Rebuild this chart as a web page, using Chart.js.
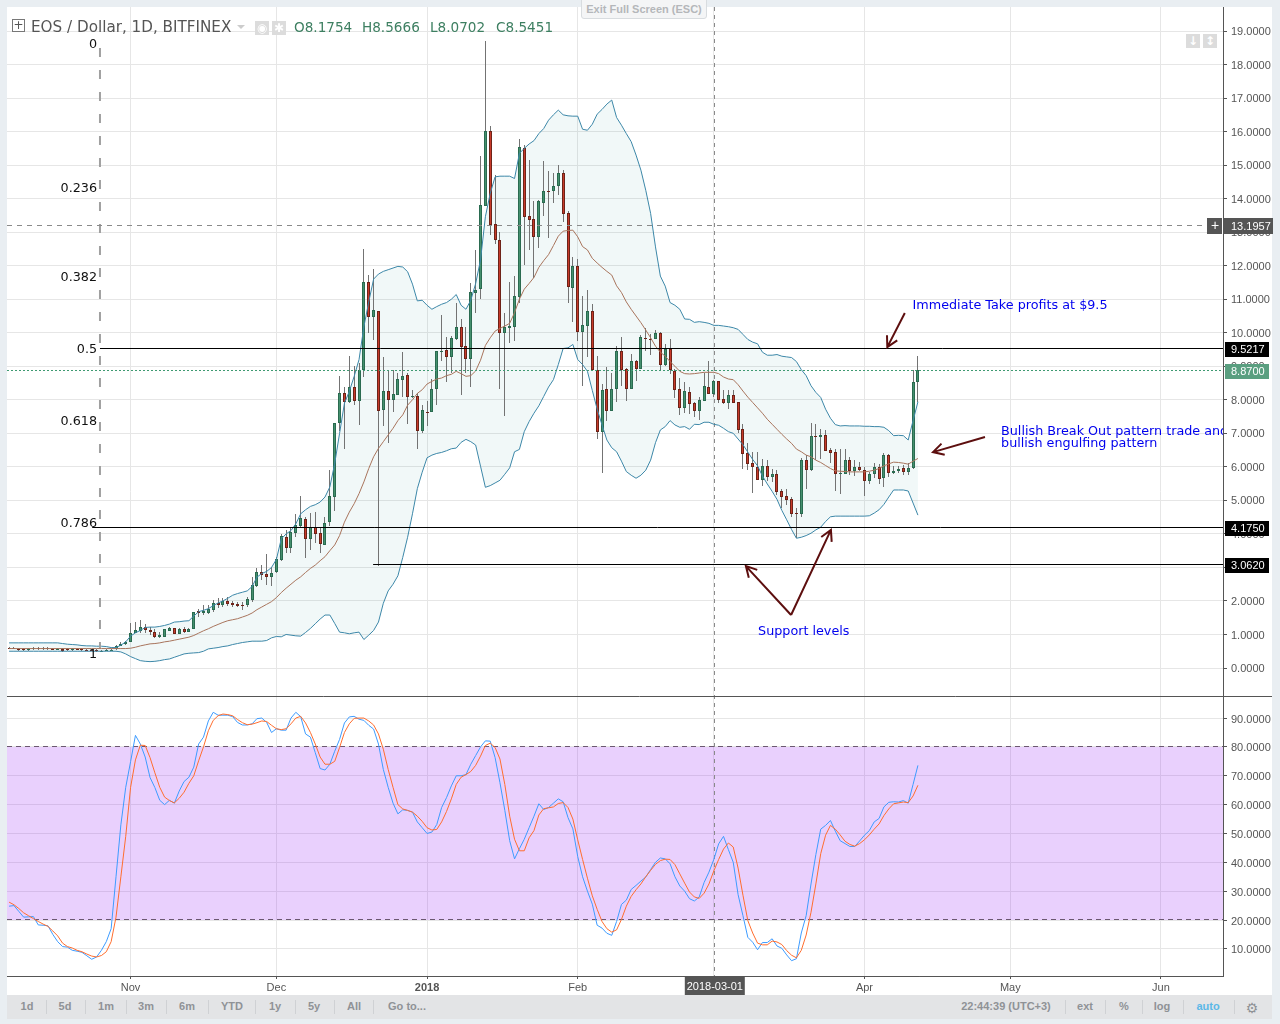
<!DOCTYPE html>
<html><head><meta charset="utf-8">
<script src="https://cdn.jsdelivr.net/npm/chart.js@4"></script>
<style>
html,body{margin:0;padding:0;background:#e9eef2;width:1280px;height:1024px;overflow:hidden;font-family:"Liberation Sans",Arial,sans-serif}
#frame{position:absolute;left:7px;top:7px;width:1265px;height:1012px;background:#fff}
canvas{position:absolute;left:0;top:0}
.t{position:absolute;white-space:nowrap}
#bar{position:absolute;left:7px;top:995px;width:1265px;height:24px;background:#e3e4e6}
.b{position:absolute;top:1000px;font:bold 11px "Liberation Sans";color:#8f9296;transform:translateX(-50%);white-space:nowrap}
.s{position:absolute;top:1000px;width:1px;height:14px;background:#cfd1d4}
.ic{position:absolute;width:14px;height:14px;background:#dcdcdc;color:#fff;font:bold 12px/14px "DejaVu Sans";text-align:center}
.q{position:absolute;top:18px;font:13.6px/18px 'DejaVu Sans';color:#3d7f61;white-space:nowrap}
</style></head><body>
<div id="frame"></div>
<canvas id="c" width="1280" height="1024"></canvas>
<div class="t" style="left:581px;top:-1px;width:124px;height:18px;border:1px solid #d8dcdf;background:#f4f5f6;border-radius:0 0 3px 3px;font:bold 11px/19px 'Liberation Sans';color:#b4b7ba;text-align:center">Exit Full Screen (ESC)</div>
<div class="t" style="left:12px;top:19px;width:11px;height:11px;border:1px solid #777;font:12px/10px 'DejaVu Sans';color:#555;text-align:center">+</div>
<div class="t" style="left:31px;top:18px;font:15.2px/18px 'DejaVu Sans';color:#555">EOS / Dollar, 1D, BITFINEX</div>
<div class="t" style="left:237px;top:25px;width:0;height:0;border:4px solid transparent;border-top-color:#ccc"></div>
<div class="ic" style="left:255px;top:21px">◉</div><div class="ic" style="left:272px;top:21px">✱</div>
<div class="q" style="left:294px">O8.1754</div><div class="q" style="left:362px">H8.5666</div><div class="q" style="left:430px">L8.0702</div><div class="q" style="left:496px">C8.5451</div>
<div class="ic" style="left:1186px;top:34px">↓</div><div class="ic" style="left:1203px;top:34px">↕</div>
<div id="bar"></div>
<script>
const firstDay = -25;
const opens = [.60,.59,.58,.57,.54,.58,.59,.58,.59,.58,.57,.58,.56,.53,.58,.56,.55,.54,.53,.52,.52,.53,
.56,.67,.71,.79,1.04,1.11,1.21,1.12,1.08,.91,.93,1.11,1.18,1.02,1.15,1.08,1.17,1.69,1.64,1.64,1.74,1.93,1.89,2.0,1.93,1.91,1.87,1.88,2.03,2.45,2.85,2.79,2.72,2.85,3.22,3.92,3.59,4.04,4.24,4.43,3.86,4.22,4.02,3.68,4.36,5.11,7.30,8.19,7.92,8.37,7.97,8.89,11.5,10.46,10.65,
7.69,8.25,7.99,8.14,8.59,8.74,8.09,8.11,7.08,7.64,7.64,8.33,9.44,9.48,9.28,9.81,10.16,9.6,9.22,11.19,11.29,13.79,16.01,13.23,12.78,10.0,10.15,10.18,11.07,15.5,13.47,13.38,12.86,13.88,14.24,14.23,14.39,14.75,13.56,11.34,11.99,10.03,10.21,10.64,8.88,7.05,8.31,7.67,8.31,9.47,8.93,8.33,9.15,8.93,9.84,9.82,9.81,10.0,9.04,9.51,8.86,8.31,7.76,8.22,7.9,7.67,7.97,8.37,8.18,8.55,
8.01,7.9,8.13,7.92,7.12,6.4,6.1,6.01,5.61,6.04,5.71,5.78,5.27,5.13,5.03,4.61,4.59,6.19,5.92,6.92,6.9,6.94,6.49,6.43,5.8,5.8,6.19,5.88,6.01,5.92,5.59,5.8,6.01,5.66,6.34,5.82,5.88,5.98,5.85,5.98,8.52];
const closes = [.59,.58,.53,.54,.58,.59,.58,.59,.58,.57,.58,.52,.53,.58,.56,.55,.54,.53,.52,.52,.53,.54,
.67,.72,.79,1.03,1.12,1.21,1.12,1.08,.91,.98,1.15,1.19,1.02,1.15,1.08,1.17,1.66,1.64,1.69,1.76,1.93,1.89,2.0,1.92,1.88,1.86,1.85,2.05,2.47,2.85,2.77,2.72,2.82,3.25,3.94,3.59,4.05,4.26,4.47,3.86,4.22,4.0,3.71,4.34,5.13,7.30,8.19,7.94,8.37,7.97,8.89,11.5,10.46,10.68,7.67,
8.25,7.99,8.16,8.61,8.70,8.09,8.12,7.08,7.69,7.61,8.32,9.45,9.47,9.28,9.83,10.16,9.58,9.22,11.21,11.27,13.81,16.01,13.21,12.77,10.0,10.16,10.2,11.09,15.53,13.46,13.37,12.86,13.92,14.24,14.22,14.39,14.75,13.53,11.37,11.99,10.03,10.22,10.64,8.89,7.05,8.28,7.67,8.31,9.47,8.9,8.33,9.15,8.93,9.86,9.82,9.81,10.0,9.05,9.51,8.89,8.3,7.76,8.25,7.88,7.67,7.98,8.4,8.18,8.55,8.0,
7.9,8.13,7.91,7.1,6.39,6.08,6.0,5.62,6.04,5.71,5.78,5.26,5.11,5.02,4.59,4.6,6.19,5.92,6.91,6.9,6.95,6.48,6.4,5.78,5.82,6.19,5.87,6.01,5.92,5.59,5.8,6.01,5.65,6.34,5.83,5.89,5.95,5.85,5.98,8.52,8.88];
const highs = [.63,.62,.61,.60,.60,.62,.62,.62,.62,.61,.61,.61,.59,.60,.61,.59,.58,.57,.56,.55,.56,.57,
.69,.77,.81,1.33,1.38,1.43,1.30,1.23,1.15,1.08,1.17,1.22,1.20,1.18,1.21,1.19,1.68,1.75,1.87,1.88,2.03,2.08,2.08,2.13,2.0,1.98,1.98,2.13,2.72,2.97,3.07,3.4,3.02,3.32,4.01,4.13,4.21,4.59,5.13,4.51,4.61,4.65,4.22,4.49,5.92,7.32,8.7,8.39,9.3,9.0,9.1,12.51,11.72,11.9,10.66,
9.28,8.9,8.89,8.79,9.42,8.79,8.3,8.2,7.84,7.96,8.61,9.45,10.53,9.88,9.9,10.9,10.4,10.18,11.47,12.47,15.27,18.7,16.16,14.7,13.0,10.58,11.51,11.69,15.78,15.6,15.15,13.93,13.95,15.12,14.82,14.77,15.0,14.85,13.63,12.25,12.2,11.09,11.27,10.85,9.3,8.47,8.97,8.79,9.6,9.88,8.95,9.36,9.2,9.93,10.15,9.96,10.08,10.02,9.65,9.8,8.91,8.64,8.53,8.39,7.94,8.09,8.81,9.15,8.59,8.57,
8.29,8.29,8.29,7.94,7.27,6.7,6.43,6.43,6.22,6.2,5.95,5.92,5.34,5.34,5.09,4.78,6.25,6.35,7.3,7.28,7.12,7.1,6.55,6.53,6.53,6.52,6.3,6.2,6.15,6.0,5.85,6.12,6.08,6.42,6.38,6.02,6.02,6.05,6.1,8.9,9.3];
const lows = [.57,.56,.50,.51,.52,.55,.55,.55,.55,.54,.54,.49,.50,.51,.53,.52,.51,.50,.49,.49,.50,.51,
.55,.66,.70,.78,1.03,1.03,1.05,.98,.90,.90,.92,1.09,1.0,1.0,1.05,1.06,1.17,1.53,1.58,1.62,1.68,1.78,1.83,1.86,1.81,1.83,1.73,1.83,1.98,2.42,2.63,2.48,2.45,2.82,3.19,3.42,3.44,3.92,4.21,3.29,3.52,3.72,3.42,3.67,4.23,4.69,7.08,6.54,7.89,7.84,7.25,8.69,9.98,9.78,3.05,
7.22,6.7,7.64,8.14,8.07,7.28,8.05,6.52,7.02,7.22,7.64,7.84,9.16,8.54,8.79,9.78,8.14,8.79,8.39,10.6,11.0,13.79,12.91,12.66,8.32,7.51,9.68,9.76,10.9,12.02,12.47,11.62,12.53,13.48,12.83,13.88,14.1,13.31,10.89,10.33,9.75,8.41,9.28,8.89,6.83,5.83,7.38,7.67,7.94,8.41,7.96,8.33,8.57,8.93,9.45,9.33,9.8,8.89,9.0,8.77,8.04,7.54,7.61,7.59,7.5,7.4,7.97,8.18,8.09,7.89,
7.88,7.74,7.9,7.0,5.94,5.9,5.21,5.62,5.43,5.59,5.56,5.16,4.76,4.86,4.51,3.89,4.51,5.35,5.88,6.2,6.24,6.48,6.1,5.29,5.19,5.78,5.76,5.73,5.88,5.13,5.5,5.66,5.49,5.41,5.7,5.78,5.82,5.76,5.76,5.95,7.94];
const bbUpper = [.75,.75,.75,.75,.75,.75,.75,.75,.75,.75,.75,.73,.71,.70,.69,.67,.66,.66,.65,.65,.64,.61,.61,.68,.78,
.95,1.05,1.12,1.21,1.22,1.22,1.24,1.27,1.31,1.37,1.38,1.40,1.41,1.55,1.68,1.72,1.77,1.86,1.94,2.0,2.08,2.17,2.22,2.26,2.30,2.43,2.71,2.82,2.88,3.0,3.24,3.85,4.0,4.1,4.3,4.6,4.72,4.82,4.87,4.95,5.1,5.4,6.1,7.0,7.9,8.25,8.7,9.2,10.18,10.92,11.6,11.75,11.83,11.88,11.93,11.98,11.96,11.82,11.45,10.95,
10.97,10.82,10.7,10.78,10.85,10.9,11.0,11.14,10.82,10.7,10.97,11.47,12.17,13.46,14.16,14.65,14.67,14.67,14.67,14.6,15.35,15.5,15.63,15.73,15.94,16.09,16.34,16.5,16.64,16.5,16.47,16.46,16.46,16.07,16.04,16.22,16.52,16.66,16.82,16.94,16.42,16.19,15.94,15.7,15.3,14.85,14.25,13.56,12.56,11.69,11.39,10.9,10.82,10.7,10.41,10.4,10.31,10.33,10.31,10.28,10.22,10.22,
10.2,10.18,10.15,10.1,9.95,9.8,9.72,9.67,9.42,9.33,9.33,9.35,9.3,9.28,9.26,9.14,8.9,8.72,8.42,8.22,8.07,7.72,7.45,7.26,7.22,7.23,7.22,7.22,7.22,7.21,7.21,7.2,7.2,7.18,7.08,6.93,6.94,6.93,6.8,7.38,7.94];
const bbLower = [.5,.5,.5,.5,.5,.5,.5,.5,.5,.5,.5,.5,.5,.5,.5,.5,.5,.5,.5,.5,.5,.5,.5,.48,.42,
.34,.28,.22,.2,.19,.2,.22,.25,.27,.32,.37,.42,.44,.45,.46,.5,.57,.59,.61,.64,.66,.7,.73,.76,.78,.8,.8,.8,.82,.9,.94,.93,1.0,.98,.96,.95,1.06,1.18,1.32,1.46,1.58,1.58,1.33,1.07,1.05,1.02,1.05,1.07,.85,.98,1.12,1.37,1.93,2.3,2.5,2.75,3.3,3.9,4.6,5.35,
5.84,6.27,6.35,6.4,6.43,6.48,6.54,6.56,6.73,6.82,6.75,6.65,6.02,5.39,5.44,5.52,5.6,5.78,5.97,6.45,6.52,7.05,7.35,7.6,7.82,8.1,8.38,8.6,9.05,9.53,9.55,9.65,9.2,9.05,8.85,8.28,7.72,7.25,6.8,6.57,6.45,6.17,5.86,5.75,5.66,5.75,5.9,6.2,6.72,7.1,7.2,7.38,7.25,7.18,7.2,7.12,7.27,7.26,7.33,7.33,7.27,7.24,
7.15,7.05,7.0,6.83,6.66,6.44,6.22,6.03,5.73,5.49,5.27,5.03,4.7,4.42,4.13,3.87,3.9,3.95,4.02,4.12,4.2,4.37,4.51,4.53,4.53,4.53,4.53,4.53,4.53,4.53,4.54,4.62,4.72,4.88,5.1,5.31,5.31,5.31,5.28,4.92,4.56];
const bbBasis = [.58,.58,.58,.58,.58,.58,.58,.58,.58,.58,.58,.58,.58,.58,.58,.58,.58,.58,.58,.58,.58,.58,.58,.58,.58,
.59,.62,.66,.69,.72,.73,.75,.78,.8,.83,.86,.89,.92,.97,1.04,1.11,1.17,1.24,1.3,1.36,1.41,1.44,1.47,1.52,1.57,1.64,1.74,1.82,1.9,1.98,2.1,2.25,2.38,2.5,2.62,2.72,2.85,2.97,3.07,3.2,3.32,3.5,3.67,3.95,4.35,4.65,4.9,5.2,5.55,5.95,6.3,6.55,6.75,6.95,7.15,7.38,7.55,7.84,8.0,8.19,
8.3,8.47,8.55,8.62,8.65,8.72,8.76,8.85,8.78,8.7,8.72,8.86,9.18,9.62,9.85,10.05,10.13,10.2,10.28,10.6,11.0,11.3,11.47,11.65,11.95,12.15,12.33,12.6,12.88,13.03,13.05,13.06,12.86,12.57,12.47,12.22,12.08,11.95,11.83,11.72,11.4,11.2,10.92,10.7,10.5,10.3,10.08,9.85,9.6,9.42,9.3,9.14,9.0,8.85,8.78,8.77,8.78,8.8,8.82,8.82,8.82,8.78,
8.68,8.62,8.6,8.45,8.26,8.08,7.92,7.76,7.6,7.42,7.27,7.12,6.97,6.83,6.7,6.53,6.45,6.35,6.3,6.2,6.13,6.04,5.95,5.88,5.87,5.86,5.85,5.85,5.85,5.85,5.87,5.9,5.95,6.03,6.09,6.14,6.13,6.11,6.08,6.17,6.25];
const stochK = [24.8,25,23,21,21.1,21.2,18.3,18.2,18,15,12.5,10.8,10.6,9.5,9.2,8.8,7.6,6.4,7.2,9.5,12.5,17,35,53,66,
74.9,84,81,76.5,69.4,65.9,61.5,60,61.5,60.5,64.7,68,69.5,73,81,83.4,89,92,91,91,91,90.5,88.5,87.6,87.6,88,89.8,90,88.5,85,86.3,85.8,85.8,90,92,90.5,84.5,83.4,78,72.5,72,74,78.5,82.6,88.3,90.4,90.6,89.6,89.2,87.5,86.2,81,72.2,66,60.5,56.8,58.2,58,57.4,54,52,50,50.5,53.1,59,62.4,66.5,70,70,70.4,74,77,
80,82.1,82,76.3,67.6,58,47.5,41.2,44.7,48,52,56,60.3,58.3,59,60.5,62,61,55.5,51.6,42,35,30,25.5,18.2,17.2,15.4,14.7,19.5,25.4,26.9,30.6,32,33.5,34.9,37.5,40,41.5,41.2,39.5,35,31.8,30,27.4,26.6,28,33,36.6,41,46.4,49,44.4,40,28.8,21.5,14,12.3,9.7,12.2,12.2,13.5,11,10.2,7.9,5.9,6.6,15.5,21.5,32.5,42.7,51.5,52.8,54.5,50.8,47.5,46.5,45.5,45.5,47.4,49.4,51,54,55.2,59.2,60.8,61,60.9,61.4,60.5,67,73.6];
const stochD = [26.2,25.3,24,22.5,21.5,20.5,19.5,18.6,17.8,16.2,14.5,12,10.8,10.3,9.5,9,8.2,7.5,7.2,7.7,9,12.5,21,35,49,
66,75.5,80.6,80.5,76.3,71,66,62.6,61.4,60.6,62.2,64.3,67.4,70,75.2,80,85.6,89.2,90.8,91.4,91.2,90.8,89.5,88.4,87.7,87.9,88.4,89,88.8,87.5,86.3,86,86.3,88,90,90.6,88.3,85,81,76.5,74,74,75,79.8,85,88,89.9,90,90,89,87.6,84.5,79.2,72.2,66,60,58.5,58,57.4,56,54.2,52,51.2,51.4,54,57.6,62,67,69.5,70.4,71.5,73.6,
76.8,80.5,81.3,79.8,75.8,67,56,48,44,44,48.5,51,56.4,58.6,58.9,59.2,60.4,60.7,59,55,47.8,41,34.5,28.4,23.7,19.5,17,15.8,16.6,20.2,24.8,28.2,30.5,32.5,35,37.2,39.3,40.6,41.1,41,39.2,36,32.8,29.7,28,27.5,29.3,32.5,37,41,44.6,46.7,45.3,38,28.6,19.8,15.5,12,11.4,11.4,12.7,12.4,11.5,9.4,7.8,6.9,9.5,14.8,22.7,32.5,43,49.4,52.8,51.5,49.5,47.3,46.2,45.6,46.5,47.8,49.5,51.5,53.3,56.2,58.5,60.3,60.6,60.9,60.7,63,66.7];

const tickDays = [0,30,61,92,120,151,181,212];
const tickLabels = ["Nov","Dec","2018","Feb","2018-03-01","Apr","May","Jun"];
const xMin=-25.43, xMax=224.77;
const crosshairDay=120, crosshairPrice=13.1957;
const lastClose=8.87;
const levels=[{p:9.5217,from:-6.3},{p:4.175,from:-7.9},{p:3.062,from:49.9}];
const fibLabels=["0","0.236","0.382","0.5","0.618","0.786","1"];
const fibPrices=[18.58,14.29,11.63,9.48,7.34,4.29,.39];
const fibLabelDay=-6.9;
const fibSpine=[18.49,.6], fibSpineDay=-6.3;
const arrows=[[159.3,10.59,155.7,9.57],[175.8,6.89,165.1,6.44],[135.9,1.58,126.6,3.04],[135.9,1.58,144.1,4.12]];
const notes=[["Immediate Take profits at $9.5",160.9,10.8],["Bullish Break Out pattern trade and",179.1,7.04],["bullish engulfing pattern",179.1,6.68],["Support levels",129.1,1.07]];
const stochBand=[80,20];
const tags=[[9.5217,"#000"],[lastClose,"#5a9f80"],[4.175,"#000"],[3.062,"#000"]];

const dayOf=i=>firstDay+i;
const series=a=>a.map((v,i)=>({x:dayOf(i),y:v}));
const wicks=closes.map((c,i)=>({x:dayOf(i),y:[lows[i],highs[i]]}));
const bodies=closes.map((c,i)=>({x:dayOf(i),y:[Math.min(opens[i],c),Math.max(opens[i],c)]}));
const isUp=closes.map((c,i)=>c>=opens[i]);
const hline=(p,from,color,dash,w,axis)=>({type:'line',snap:true,data:[{x:from,y:p},{x:xMax,y:p}],borderColor:color,borderWidth:w||1,borderDash:dash||[],pointRadius:0,yAxisID:axis||'y',fill:false,order:1});
const line=(a,color,extra)=>Object.assign({type:'line',data:series(a),borderColor:color,borderWidth:1,pointRadius:0,tension:0,fill:false,yAxisID:'y',order:2},extra||{});

const overlay={id:'overlay',
 beforeDatasetsDraw(ch){
  ch.data.datasets.forEach((ds,i)=>{const m=ch.getDatasetMeta(i);
   if(ds.type==='bar'){m.data.forEach(el=>{el.x=Math.floor(el.x)+.5;el.y=Math.round(el.y);el.base=Math.round(el.base);if(el.base===el.y)el.base+=1;});}
   else if(ds.snap){m.data.forEach(el=>{el.y=Math.round(el.y)-.5;});}
  });
  const c=ch.ctx,x=ch.scales.x.getPixelForValue(crosshairDay);
  c.save();c.strokeStyle='#8a8a8a';c.setLineDash([4,4]);c.lineWidth=1;c.beginPath();c.moveTo(Math.round(x)+.5,ch.chartArea.top);c.lineTo(Math.round(x)+.5,ch.chartArea.bottom);c.stroke();c.restore();},
 afterDraw(ch){
  const c=ch.ctx,X=ch.scales.x,Y=ch.scales.y,A=ch.chartArea;
  c.save();
  const div=ch.scales.y2.top;
  c.strokeStyle='#555';c.lineWidth=1;c.beginPath();c.moveTo(A.left,Math.round(div)+.5);c.lineTo(A.right+49,Math.round(div)+.5);c.stroke();
  c.beginPath();c.moveTo(A.left,Math.round(A.bottom)+.5);c.lineTo(A.right+.5,Math.round(A.bottom)+.5);c.stroke();
  c.font='12.75px "DejaVu Sans"';c.fillStyle='#111';c.textAlign='right';c.textBaseline='middle';
  fibLabels.forEach((t,i)=>c.fillText(t,X.getPixelForValue(fibLabelDay),Y.getPixelForValue(fibPrices[i])));
  c.strokeStyle='#5d0f0f';c.lineWidth=2;
  arrows.forEach(a=>{const x1=X.getPixelForValue(a[0]),y1=Y.getPixelForValue(a[1]),x2=X.getPixelForValue(a[2]),y2=Y.getPixelForValue(a[3]);
   const t=Math.atan2(y2-y1,x2-x1),h=12;
   c.beginPath();c.moveTo(x1,y1);c.lineTo(x2,y2);
   c.moveTo(x2-h*Math.cos(t-.5),y2-h*Math.sin(t-.5));c.lineTo(x2,y2);c.lineTo(x2-h*Math.cos(t+.5),y2-h*Math.sin(t+.5));c.stroke();});
  c.save();c.beginPath();c.rect(A.left,A.top,A.right-A.left,A.bottom-A.top);c.clip();
  c.font='12.75px "DejaVu Sans"';c.fillStyle='#0000ee';c.textAlign='left';
  notes.forEach(n=>c.fillText(n[0],X.getPixelForValue(n[1]),Y.getPixelForValue(n[2])));
  c.restore();
  c.font='11px "Liberation Sans"';
  const tag=(p,col,l,w)=>{const y=Math.round(Y.getPixelForValue(p));c.fillStyle=col;c.fillRect(l,y-7,w,15);c.fillStyle='#fff';c.textAlign='left';c.fillText(p.toFixed(4),l+6,y+1);};
  tags.forEach(t=>tag(t[0],t[1],A.right+2,44));
  const yc=Math.round(Y.getPixelForValue(crosshairPrice));
  c.fillStyle='#555';c.fillRect(A.right-16,yc-8,66,16);
  c.fillStyle='#fff';c.textAlign='left';c.fillText(crosshairPrice.toFixed(4),A.right+8,yc+1);
  c.font='14px "Liberation Sans"';c.fillText('+',A.right-12,yc);
  c.fillStyle='#fff';c.fillRect(A.right-1,yc-8,1,16);
  const xd=X.getPixelForValue(crosshairDay);
  c.fillStyle='#555';c.fillRect(xd-29,A.bottom+1,60,18);
  c.fillStyle='#fff';c.font='11px "Liberation Sans"';c.textAlign='center';c.fillText(tickLabels[tickDays.indexOf(crosshairDay)],xd+1,A.bottom+10.5);
  c.restore();
 }};

const fitY=a=>{a.width=49;a.paddingTop=0;a.paddingBottom=0;};
new Chart(document.getElementById('c'),{
 type:'line',
 data:{datasets:[
  hline(crosshairPrice,xMin,'#8a8a8a',[5,5]),
  hline(lastClose,xMin,'#3f9a72',[2,2]),
  ...levels.map(l=>hline(l.p,l.from,'#000')),
  {type:'line',data:fibSpine.map(p=>({x:fibSpineDay,y:p})),borderColor:'#a0a0a0',borderWidth:2,borderDash:[9,13],pointRadius:0,yAxisID:'y',fill:false,order:1},
  line(bbBasis,'#a8745c'),
  line(bbUpper,'#3c87a8',{fill:'+1',backgroundColor:'rgba(60,150,150,.07)'}),
  line(bbLower,'#3c87a8'),
  {type:'bar',data:bodies,grouped:false,barThickness:3,inflateAmount:0,yAxisID:'y',order:5,borderWidth:1,borderSkipped:false,
   backgroundColor:isUp.map(u=>u?'#45906e':'#c73a2a'),borderColor:isUp.map(u=>u?'#2a6b50':'#6e2318')},
  {type:'bar',data:wicks,grouped:false,barThickness:1,inflateAmount:0,yAxisID:'y',order:6,borderWidth:0,backgroundColor:'#737373'},
  {type:'line',snap:true,data:[{x:xMin,y:stochBand[0]},{x:xMax,y:stochBand[0]}],yAxisID:'y2',borderColor:'#6b5870',borderWidth:1,borderDash:[5,4],pointRadius:0,fill:'+1',backgroundColor:'rgba(145,20,245,.2)',order:3},
  {type:'line',snap:true,data:[{x:xMin,y:stochBand[1]},{x:xMax,y:stochBand[1]}],yAxisID:'y2',borderColor:'#6b5870',borderWidth:1,borderDash:[5,4],pointRadius:0,fill:false,order:3},
  line(stochD,'#ff6d2e',{yAxisID:'y2',order:1.5}),
  line(stochK,'#3d9bff',{yAxisID:'y2',order:1.6})
 ]},
 plugins:[overlay],
 options:{
  responsive:false,animation:false,devicePixelRatio:1,
  layout:{padding:{left:7,top:7,right:8,bottom:29}},
  plugins:{legend:{display:false},tooltip:{enabled:false},filler:{drawTime:'beforeDatasetsDraw',propagate:false}},
  scales:{
   x:{type:'linear',min:xMin,max:xMax,offset:false,position:'bottom',
     afterBuildTicks:a=>{a.ticks=tickDays.map(v=>({value:v}))},
     afterFit:a=>{a.height=19;a.paddingLeft=0;a.paddingRight=0;},
     grid:{color:'#e6e6e6',offset:false,drawTicks:true,tickColor:'#555',tickLength:3},border:{color:'#555'},
     ticks:{autoSkip:false,maxRotation:0,padding:2,color:'#555',
       font:c=>({family:'"Liberation Sans"',size:11,weight:c.tick&&c.tick.value===61?'bold':'normal'}),
       callback:v=>tickLabels[tickDays.indexOf(v)]}},
   y:{type:'linear',position:'right',stack:'p',stackWeight:689,min:-0.835,max:19.716,
     afterFit:fitY,
     grid:{color:'#e6e6e6',tickColor:'#555',tickLength:4},border:{color:'#555'},
     ticks:{stepSize:1,includeBounds:false,autoSkip:false,padding:4,labelOffset:1,color:'#555',font:{family:'"Liberation Sans"',size:11},callback:v=>v.toFixed(4)}},
   y2:{type:'linear',position:'right',stack:'p',stackWeight:280,min:0.6,max:97.65,
     afterFit:fitY,
     grid:{color:'#e6e6e6',tickColor:'#555',tickLength:4},border:{color:'#555'},
     ticks:{stepSize:10,includeBounds:false,autoSkip:false,padding:4,labelOffset:1.5,color:'#555',font:{family:'"Liberation Sans"',size:11},callback:v=>v.toFixed(4)}}
  }
 }
});
const leftBtns=[["1d",27],["5d",65],["1m",106],["3m",146],["6m",187],["YTD",232],["1y",275],["5y",314],["All",354],["Go to...",407]];
const leftSeps=[46,85,126,166,208,255,295,334,373];
const rightBtns=[["22:44:39 (UTC+3)",1006],["ext",1085],["%",1124],["log",1162],["auto",1208],["⚙",1252]];
const rightSeps=[1065,1105,1142,1183,1234];
leftBtns.concat(rightBtns).forEach(([t,x])=>{const d=document.createElement('div');d.className='b';d.textContent=t;d.style.left=x+'px';if(t==='auto')d.style.color='#5bb8e8';if(t==='⚙')d.style.font='14px "DejaVu Sans"';document.body.appendChild(d);});
leftSeps.concat(rightSeps).forEach(x=>{const d=document.createElement('div');d.className='s';d.style.left=x+'px';document.body.appendChild(d);});
</script>
</body></html>
